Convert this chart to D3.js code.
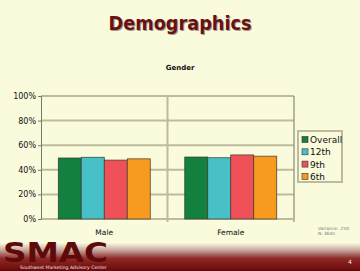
<!DOCTYPE html>
<html>
<head>
<meta charset="utf-8">
<script src="https://cdn.jsdelivr.net/npm/d3@7"></script>
<style>
  html, body { margin: 0; padding: 0; background: #FAFADC; }
  svg { display: block; }
</style>
</head>
<body>
<div id="chart"></div>
<script>
// gender breakdown, percent of each group
var categories = ["Male", "Female"];
var seriesNames = ["Overall", "12th", "9th", "6th"];
var overall = [49.6, 50.4];
var twelfth = [50.2, 49.8];
var ninth = [47.9, 52.1];
var sixth = [48.9, 51.1];
var yTicks = [0, 20, 40, 60, 80, 100];
var colors = ["#12803F", "#48C0C8", "#F05058", "#F89A20"];

var W = 360, H = 271;
var margin = {top: 96, right: 66, bottom: 52, left: 41};
var w = W - margin.left - margin.right,
    h = H - margin.top - margin.bottom;

var svg = d3.select("#chart").append("svg")
  .attr("width", W)
  .attr("height", H);

svg.append("rect").attr("width", W).attr("height", H).attr("fill", "#FAFADC");

// footer gradient band
var defs = svg.append("defs");
var grad = defs.append("linearGradient").attr("id", "foot").attr("x1", 0).attr("y1", 0).attr("x2", 0).attr("y2", 1);
grad.append("stop").attr("offset", "0%").attr("stop-color", "#FAFADC");
grad.append("stop").attr("offset", "25%").attr("stop-color", "#C8A8A0");
grad.append("stop").attr("offset", "55%").attr("stop-color", "#8E2A28");
grad.append("stop").attr("offset", "100%").attr("stop-color", "#6A0808");
svg.append("rect").attr("x", 0).attr("y", 243).attr("width", W).attr("height", 28).attr("fill", "url(#foot)");

svg.append("text")
  .attr("x", 3).attr("y", 262)
  .attr("textLength", 105).attr("lengthAdjust", "spacingAndGlyphs")
  .style("font-family", "DejaVu Sans").style("font-weight", "bold").style("font-size", "26px")
  .attr("fill", "#5E0A0A")
  .text("SMAC");
svg.append("text")
  .attr("x", 20).attr("y", 269)
  .style("font-family", "DejaVu Sans").style("font-size", "4.6px")
  .attr("fill", "#F4E8E0")
  .text("Southwest Marketing Advisory Center");
svg.append("text")
  .attr("x", 348).attr("y", 264)
  .style("font-family", "DejaVu Sans").style("font-size", "6px")
  .attr("fill", "#F4E8E0")
  .text("4");

// title with shadow
var title = svg.append("g");
title.append("text")
  .attr("x", 181).attr("y", 31)
  .attr("text-anchor", "middle")
  .attr("textLength", 143).attr("lengthAdjust", "spacingAndGlyphs")
  .style("font-family", "DejaVu Sans").style("font-weight", "bold").style("font-size", "20px")
  .attr("fill", "#A09A90")
  .text("Demographics");
title.append("text")
  .attr("x", 180).attr("y", 30)
  .attr("text-anchor", "middle")
  .attr("textLength", 143).attr("lengthAdjust", "spacingAndGlyphs")
  .style("font-family", "DejaVu Sans").style("font-weight", "bold").style("font-size", "20px")
  .attr("fill", "#6B1012")
  .text("Demographics");

svg.append("text")
  .attr("x", 180).attr("y", 69.5)
  .attr("text-anchor", "middle")
  .style("font-family", "DejaVu Sans").style("font-weight", "bold").style("font-size", "7px")
  .attr("fill", "#111")
  .text("Gender");

var g = svg.append("g").attr("transform", "translate(" + margin.left + "," + margin.top + ")");

var x0 = d3.scaleBand().domain(categories).range([0, w]);
var x1 = d3.scaleBand().domain(seriesNames).range([0, 92]);
var y = d3.scaleLinear().domain([0, 100]).range([h, 0]);

// gridlines
g.selectAll(".grid").data(yTicks.filter(function(d){ return d > 0; }))
  .enter().append("line")
  .attr("x1", 0).attr("x2", w)
  .attr("y1", function(d){ return y(d); }).attr("y2", function(d){ return y(d); })
  .attr("stroke", "#BDBB9C").attr("stroke-width", 2);

// category dividers
g.selectAll(".div").data(categories)
  .enter().append("line")
  .attr("x1", function(d){ return x0(d) + x0.bandwidth(); })
  .attr("x2", function(d){ return x0(d) + x0.bandwidth(); })
  .attr("y1", 0).attr("y2", h + 3)
  .attr("stroke", function(d, i){ return i == categories.length - 1 ? "#8A8A78" : "#BDBB9C"; })
  .attr("stroke-width", function(d, i){ return i == categories.length - 1 ? 1.2 : 2; });

// baseline
g.append("line")
  .attr("x1", 0).attr("x2", w).attr("y1", h).attr("y2", h)
  .attr("stroke", "#BDBB9C").attr("stroke-width", 2);

var table = categories.map(function(c, i){
  return {cat: c, vals: [overall[i], twelfth[i], ninth[i], sixth[i]]};
});

var groups = g.selectAll(".grp").data(table)
  .enter().append("g")
  .attr("transform", function(d){ return "translate(" + (x0(d.cat) + (x0.bandwidth() - 92) / 2) + ",0)"; });

groups.selectAll("rect")
  .data(function(d){ return d.vals.map(function(v, j){ return {s: seriesNames[j], v: v, c: colors[j]}; }); })
  .enter().append("rect")
  .attr("x", function(d){ return x1(d.s); })
  .attr("width", x1.bandwidth())
  .attr("y", function(d){ return y(d.v); })
  .attr("height", function(d){ return h - y(d.v); })
  .attr("fill", function(d){ return d.c; })
  .attr("stroke", "#3A3A30").attr("stroke-width", 0.7);

// y axis
var yAxis = g.append("g")
  .call(d3.axisLeft(y).tickValues(yTicks).tickSize(3).tickFormat(function(d){ return d + "%"; }));
yAxis.select(".domain").attr("stroke", "#77776A");
yAxis.selectAll(".tick line").attr("stroke", "#77776A");
yAxis.selectAll("text")
  .style("font-family", "DejaVu Sans").style("font-size", "8px").attr("fill", "#111").attr("x", -5);

// category labels
g.selectAll(".cat").data(categories)
  .enter().append("text")
  .attr("x", function(d){ return x0(d) + x0.bandwidth() / 2; })
  .attr("y", h + 15.5)
  .attr("text-anchor", "middle")
  .style("font-family", "DejaVu Sans").style("font-size", "7.5px")
  .attr("fill", "#111")
  .text(function(d){ return d; });

// legend
var leg = svg.append("g").attr("transform", "translate(298,131)");
leg.append("rect").attr("width", 44).attr("height", 51)
  .attr("fill", "#FAFADC").attr("stroke", "#BDBB9C").attr("stroke-width", 2);
var items = leg.selectAll(".li").data(seriesNames)
  .enter().append("g")
  .attr("transform", function(d, i){ return "translate(4," + (8.5 + i * 12.3) + ")"; });
items.append("rect")
  .attr("x", 0).attr("y", -3).attr("width", 6).attr("height", 6)
  .attr("fill", function(d, i){ return colors[i]; })
  .attr("stroke", "#333").attr("stroke-width", 0.6);
items.append("text")
  .attr("x", 8).attr("y", 3.5)
  .style("font-family", "DejaVu Sans").style("font-size", "9px")
  .attr("fill", "#111")
  .text(function(d){ return d; });

// sample note
svg.append("text").attr("x", 318).attr("y", 229.5)
  .style("font-family", "DejaVu Sans").style("font-size", "4.3px").attr("fill", "#777")
  .text("Variance: .250");
svg.append("text").attr("x", 318).attr("y", 234.5)
  .style("font-family", "DejaVu Sans").style("font-size", "4.3px").attr("fill", "#777")
  .text("N: 3645");
</script>
</body>
</html>
